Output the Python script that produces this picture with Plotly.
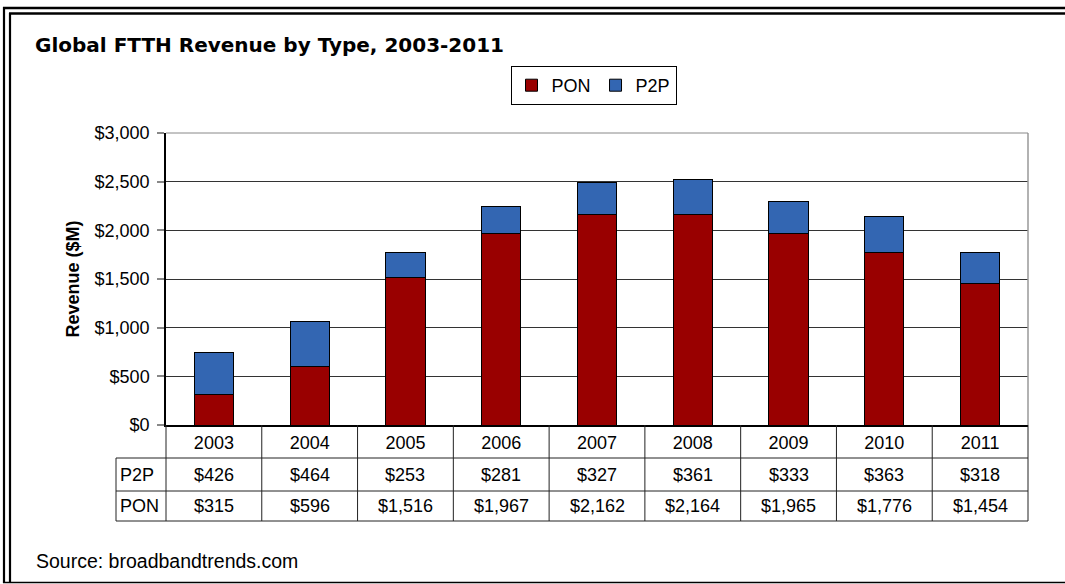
import plotly.graph_objects as go

# ---- data ----
years = ["2003", "2004", "2005", "2006", "2007", "2008", "2009", "2010", "2011"]
pon = [315, 596, 1516, 1967, 2162, 2164, 1965, 1776, 1454]
p2p = [426, 464, 253, 281, 327, 361, 333, 363, 318]
table_labels = ["P2P", "PON"]
table_rows = [p2p, pon]

# ---- layout geometry (pixels) ----
W, H = 1065, 584
L, R, T, B = 166, 1028, 133, 425
PW, PH = R - L, B - T


def px(x):
    return (x - L) / PW


def py(y):
    return (B - y) / PH


FONT = "Liberation Sans, Arial, sans-serif"
PON_COLOR = "#990000"
P2P_COLOR = "#3366b2"

fig = go.Figure()
fig.add_bar(name="PON", x=years, y=pon,
            marker=dict(color=PON_COLOR, line=dict(color="black", width=1)))
fig.add_bar(name="P2P", x=years, y=p2p,
            marker=dict(color=P2P_COLOR, line=dict(color="black", width=1)))

shapes = []
annotations = []

# table rows geometry
row_edges = [425, 458, 491, 521]
n = len(years)
# vertical column boundaries
for k in range(n + 1):
    shapes.append(dict(type="line", xref="paper", yref="paper",
                       x0=k / n, x1=k / n, y0=py(row_edges[0]), y1=py(row_edges[-1]),
                       line=dict(color="#222", width=1)))
# horizontal lines
for e in row_edges[1:]:
    shapes.append(dict(type="line", xref="paper", yref="paper",
                       x0=px(116), x1=1, y0=py(e), y1=py(e),
                       line=dict(color="#222", width=1)))
# left edge of label column
shapes.append(dict(type="line", xref="paper", yref="paper",
                   x0=px(116), x1=px(116), y0=py(row_edges[1]), y1=py(row_edges[-1]),
                   line=dict(color="#222", width=1)))

for r, (lab, vals) in enumerate(zip(table_labels, table_rows)):
    yc = (row_edges[r + 1] + row_edges[r + 2]) / 2
    annotations.append(dict(text=lab, xref="paper", yref="paper", x=px(118), y=py(yc),
                            xanchor="left", yanchor="middle", showarrow=False,
                            font=dict(family=FONT, size=18, color="black")))
    for i, v in enumerate(vals):
        annotations.append(dict(text="${:,}".format(v), xref="x", yref="paper", x=i, y=py(yc),
                                xanchor="center", yanchor="middle", showarrow=False,
                                font=dict(family=FONT, size=18, color="black")))

# plot area border (right / top, grey)
shapes.append(dict(type="line", xref="paper", yref="paper", x0=1, x1=1, y0=0, y1=1,
                   line=dict(color="#999", width=1.5)))
shapes.append(dict(type="line", xref="paper", yref="paper", x0=0, x1=1, y0=1, y1=1,
                   line=dict(color="#888", width=1)))

# outer frame: double lines left / top, single bottom
frame = [
    (4, 7, 4, 583, 2.2),
    (10, 13, 10, 583, 2.2),
    (3, 8, W, 8, 2.4),
    (9, 13.5, W, 13.5, 2.4),
    (3, 582.5, W, 582.5, 1.5),
]
for x0, y0, x1, y1, w in frame:
    shapes.append(dict(type="line", xref="paper", yref="paper",
                       x0=px(x0), y0=py(y0), x1=px(x1), y1=py(y1),
                       line=dict(color="black", width=w)))

# source note
annotations.append(dict(text="Source: broadbandtrends.com", xref="paper", yref="paper",
                        x=px(34), y=py(561), xanchor="left", yanchor="middle", showarrow=False,
                        font=dict(family=FONT, size=19.5, color="black")))

fig.update_layout(
    width=W, height=H,
    margin=dict(l=L, r=W - R, t=T, b=H - B, pad=0),
    barmode="stack", bargap=0.59,
    plot_bgcolor="white", paper_bgcolor="white",
    title=dict(text="<b>Global FTTH Revenue by Type, 2003-2011</b>",
               xref="container", yref="container", x=35 / W, y=1 - 45 / H,
               xanchor="left", yanchor="middle",
               font=dict(family="DejaVu Sans, sans-serif", size=20, color="black")),
    legend=dict(orientation="h", x=px(593.5), xanchor="center", y=py(66), yanchor="top",
                bordercolor="black", borderwidth=1, bgcolor="white", traceorder="normal",
                itemwidth=30, font=dict(family=FONT, size=18, color="black")),
    xaxis=dict(type="category", range=[-0.5, n - 0.5], showline=True, linecolor="black",
               linewidth=2, ticks="", showgrid=False,
               tickfont=dict(family=FONT, size=18, color="black"),
               ticklabelstandoff=0),
    yaxis=dict(range=[0, 3000], dtick=500, tickprefix="$", tickformat=",d",
               showline=True, linecolor="black", linewidth=1.5,
               ticks="outside", ticklen=7, tickcolor="#888", tickwidth=1.5,
               showgrid=True, gridcolor="#333", gridwidth=1, zeroline=False,
               tickfont=dict(family=FONT, size=18, color="black"),
               ticklabelstandoff=4,
               title=dict(text="<b>Revenue ($M)</b>", standoff=10,
                          font=dict(family=FONT, size=18, color="black"))),
    shapes=shapes, annotations=annotations,
)

fig.write_html("out.html", config={"displayModeBar": False},
               post_script="document.body.style.margin='0';")
